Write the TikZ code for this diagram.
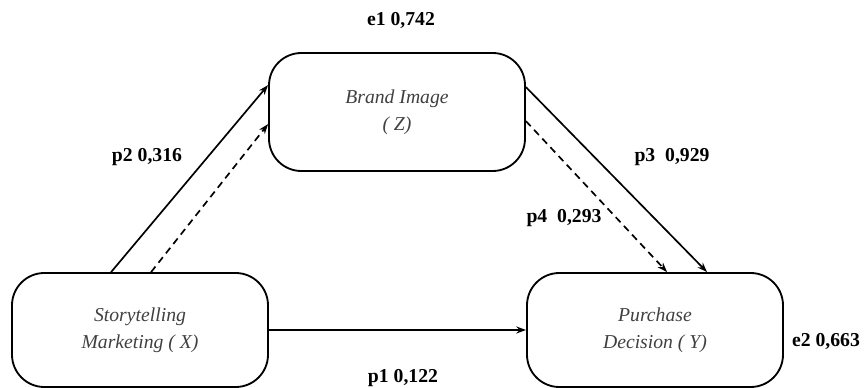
\documentclass[tikz,border=0pt]{standalone}
\usepackage{fontspec}
\setmainfont{Liberation Serif}
\usetikzlibrary{arrows.meta,calc}

\tikzset{
    varbox/.style={draw, line width=1.3pt, rounded corners=23pt, minimum width=256*0.025cm,
        minimum height=114*0.025cm, align=center, text=black!75,
        font=\fontsize{14}{19}\selectfont\itshape},
    coef/.style={font=\fontsize{14}{17}\selectfont\bfseries, inner sep=0pt},
    path/.style={line width=1.2pt, -{Stealth[length=7pt,width=5pt]}},
    dashpath/.style={path, dash pattern=on 5pt off 3.5pt}
}

\begin{document}
\begin{tikzpicture}[x=0.025cm,y=-0.025cm]
    \useasboundingbox (0,0) rectangle (864,388);
    \node [varbox] (X) at (140,330) {Storytelling\\Marketing ( X)};
    \node [varbox] (Y) at (655,330) {Purchase\\Decision ( Y)};
    \node [varbox, minimum height=118*0.025cm] (Z) at (397,112) {Brand Image\\( Z)};

    \draw [path] ($(X.north west)+(100,0)$) -- ($(Z.north west)+(0,33)$);
    \draw [dashpath] ($(X.north west)+(140,0)$) -- ($(Z.north west)+(0,72)$);
    \draw [path] ($(Z.north east)+(0,35)$) -- ($(Y.north west)+(181,0)$);
    \draw [dashpath] ($(Z.north east)+(0,69)$) -- ($(Y.north west)+(141,0)$);
    \draw [path] (X.east) -- (Y.west);

    \node [coef] (e1) at (401,20) {e1 0,742};
    \node [coef] (p2) at (147,157) {p2 0,316};
    \node [coef] (p3) at (672,157) {p3\ \ 0,929};
    \node [coef] (p4) at (564,218) {p4\ \ 0,293};
    \node [coef] (p1) at (403,378) {p1 0,122};
    \node [coef] (e2) at (826,341) {e2 0,663};
\end{tikzpicture}
\end{document}
